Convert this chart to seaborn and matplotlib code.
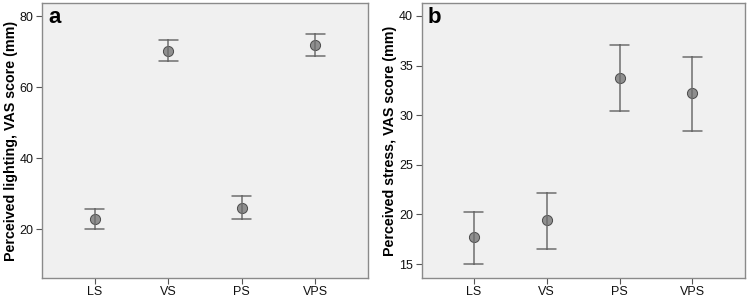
import pandas as pd
import matplotlib.pyplot as plt
import seaborn as sns

sns.set_style("white")
plt.rcParams.update({
    "font.family": ["Liberation Sans", "DejaVu Sans"],
    "xtick.labelsize": 9,
    "ytick.labelsize": 9,
})

conditions = ["LS", "VS", "PS", "VPS"]

# panel a: perceived lighting (mean, lower and upper CI)
light_mean = [22.8, 70.2, 26.0, 71.9]
light_low = [19.9, 67.3, 22.8, 68.7]
light_high = [25.7, 73.2, 29.3, 75.1]

# panel b: perceived stress
stress_mean = [17.7, 19.4, 33.7, 32.2]
stress_low = [15.0, 16.5, 30.4, 28.4]
stress_high = [20.3, 22.2, 37.1, 35.9]


def to_long(mean, low, high):
    rows = []
    for c, m, lo, hi in zip(conditions, mean, low, high):
        for v in (lo, m, hi):
            rows.append({"cond": c, "value": v})
    return pd.DataFrame(rows)


panels = [
    (to_long(light_mean, light_low, light_high), "Perceived lighting, VAS score (mm)",
     (6.2, 83.7), [20, 40, 60, 80], "a"),
    (to_long(stress_mean, stress_low, stress_high), "Perceived stress, VAS score (mm)",
     (13.6, 41.3), [15, 20, 25, 30, 35, 40], "b"),
]

fig = plt.figure(figsize=(7.5, 2.98), dpi=100)
boxes = [[0.056, 0.067, 0.435, 0.923], [0.562, 0.067, 0.431, 0.923]]

for box, (df, ylabel, ylim, yticks, letter) in zip(boxes, panels):
    ax = fig.add_axes(box)
    ax.set_facecolor("#f0f0f0")
    sns.pointplot(
        data=df, x="cond", y="value", order=conditions,
        estimator="median", errorbar=lambda x: (x.min(), x.max()),
        linestyle="none", color="#6e6e6e", capsize=0.26,
        err_kws={"linewidth": 1.1, "color": "#6e6e6e"},
        marker="o", markersize=7.3,
        markerfacecolor="#8f8f8f", markeredgecolor="#4a4a4a", markeredgewidth=0.7,
        ax=ax,
    )
    ax.set_xlim(-0.72, 3.72)
    ax.set_ylim(*ylim)
    ax.set_yticks(yticks)
    ax.set_xlabel("")
    ax.set_ylabel(ylabel, fontsize=10.3, fontweight="bold", labelpad=1.5, color="black")
    for s in ax.spines.values():
        s.set_color("#8a8a8a")
        s.set_linewidth(1.0)
    ax.tick_params(axis="both", length=4, width=0.8, color="#555555", pad=2,
                   labelcolor="#111111", left=True, bottom=True)
    ax.text(0.02, 0.985, letter, transform=ax.transAxes, fontsize=16,
            fontweight="bold", va="top", ha="left", color="black")

fig.savefig("out.png", dpi=100)
